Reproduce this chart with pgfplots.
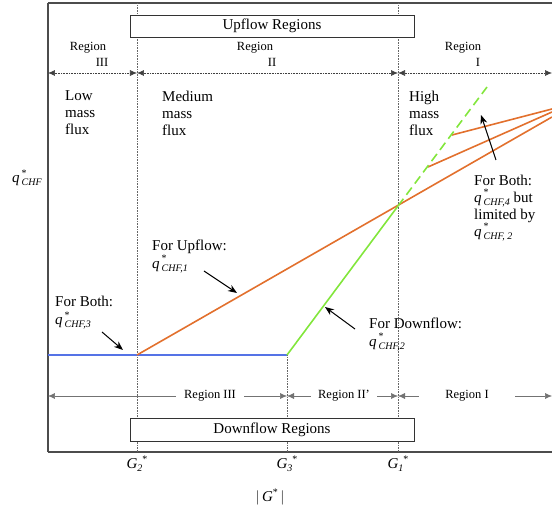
\documentclass[border=0pt]{standalone}
\usepackage{amsmath}
\usepackage{pgfplots}
\pgfplotsset{compat=1.18}
\usetikzlibrary{arrows.meta}
\usepackage{fontspec}
\setmainfont{Liberation Serif}
\definecolor{corange}{RGB}{226,112,45}
\definecolor{cblue}{RGB}{85,115,230}
\definecolor{cgreen}{RGB}{130,230,60}
\newcommand{\sm}{\fontsize{10}{10}\selectfont}
\newcommand{\q}[1]{\textit{q}\hspace{2pt}\rlap{\raisebox{6.5pt}{\sm *}}\raisebox{-3pt}{\sm\textit{#1}}}
\newcommand{\G}[1]{\textit{G}\raisebox{-3pt}{\sm\textit{#1}}\raisebox{6pt}{\sm *}}
\newcommand{\rf}{\fontsize{12.5}{14}\selectfont}
\begin{document}
\begin{tikzpicture}[font=\fontsize{15}{17}\selectfont]
\begin{axis}[
  scale only axis, width=504pt, height=449pt,
  xmin=48, xmax=552, ymin=57, ymax=506,
  axis x line*=bottom, axis y line*=left,
  axis line style={line width=1.2pt, draw=black!70},
  xtick={137,287,398},
  xticklabels={{\G{2}},{\G{3}},{\G{1}}},
  ytick=\empty,
  major tick length=0pt,
  xticklabel style={font=\fontsize{15}{17}\selectfont},
  clip=false,
]
% top border
\draw[line width=1.2pt, draw=black!70] (axis cs:48,506) -- (axis cs:552,506);
% vertical dotted lines
\draw[densely dotted, black!60, line width=0.6pt] (axis cs:137,57) -- (axis cs:137,506);
\draw[densely dotted, black!60, line width=0.6pt] (axis cs:398,57) -- (axis cs:398,506);
\draw[densely dotted, black!60, line width=0.6pt] (axis cs:287,57) -- (axis cs:287,154);
% top region arrows
\tikzset{rarr/.style={black!75, line width=0.6pt, {Latex[length=7pt,width=6pt]}-{Latex[length=7pt,width=6pt]}}}
\draw[rarr, densely dotted] (axis cs:48,436) -- (axis cs:137,436);
\draw[rarr, densely dotted] (axis cs:137,436) -- (axis cs:398,436);
\draw[rarr, densely dotted] (axis cs:398,436) -- (axis cs:552,436);
\node[font=\rf] at (axis cs:88,461) {Region};
\node[font=\rf] at (axis cs:102,447) {III};
\node[font=\rf] at (axis cs:255,461) {Region};
\node[font=\rf] at (axis cs:272,447) {II};
\node[font=\rf] at (axis cs:463,461) {Region};
\node[font=\rf] at (axis cs:478,447) {I};
% bottom region arrows
\draw[rarr, black!55, line width=0.5pt] (axis cs:48,113) -- (axis cs:287,113);
\draw[rarr, black!55, line width=0.5pt] (axis cs:287,113) -- (axis cs:398,113);
\draw[rarr, black!55, line width=0.5pt] (axis cs:398,113) -- (axis cs:552,113);
\node[font=\rf, fill=white, inner xsep=8pt, inner ysep=2pt] at (axis cs:210,113) {Region III};
\node[font=\rf, fill=white, inner xsep=7pt, inner ysep=2pt] at (axis cs:344,113) {Region II'};
\node[font=\rf, fill=white, inner xsep=26pt, inner ysep=2pt] at (axis cs:467,113) {Region I};
% boxes
\draw[fill=white, line width=0.8pt, draw=black!80] (axis cs:130,472) rectangle (axis cs:414,494);
\node at (axis cs:272,483) {Upflow Regions};
\draw[fill=white, line width=0.8pt, draw=black!80] (axis cs:130,68) rectangle (axis cs:414,91);
\node at (axis cs:272,79.5) {Downflow Regions};
% data lines
\addplot[cblue, line width=1.6pt] coordinates {(48,154) (287,154)};
\addplot[corange, line width=1.6pt] coordinates {(137,154) (552,392)};
\addplot[corange, line width=1.6pt] coordinates {(428,342) (552,397)};
\addplot[corange, line width=1.6pt] coordinates {(452,374) (552,400)};
\addplot[cgreen, line width=1.6pt] coordinates {(287,154) (398,303)};
\addplot[cgreen, line width=1.6pt, dash pattern=on 9pt off 5pt] coordinates {(398,303) (487,422)};
% flux texts
\node[anchor=west, align=left, inner sep=0] at (axis cs:65,396) {Low\\mass\\flux};
\node[anchor=west, align=left, inner sep=0] at (axis cs:162,396) {Medium\\mass\\flux};
\node[anchor=west, align=left, inner sep=0] at (axis cs:409,396) {High\\mass\\flux};
% y label
\node at (axis cs:27,331) {\q{CHF}};
% annotations
\node[anchor=west, align=left, inner sep=0] at (axis cs:152,253) {For Upflow:\\[1pt]\q{CHF,1}};
\node[anchor=west, align=left, inner sep=0] at (axis cs:55,196) {For Both:\\[1pt]\q{CHF,3}};
\node[anchor=west, align=left, inner sep=0] at (axis cs:369,175) {For Downflow:\\[1pt]\q{CHF,2}};
\node[anchor=west, align=left, inner sep=0] at (axis cs:474,301) {For Both:\\\q{CHF,4} but\\limited by\\\q{CHF, 2}};
\tikzset{aarr/.style={-{Stealth[length=9pt,width=7pt]}, line width=1pt, black}}
\draw[aarr] (axis cs:204,238) -- (axis cs:237,216);
\draw[aarr] (axis cs:102,177) -- (axis cs:123,159);
\draw[aarr] (axis cs:355,180) -- (axis cs:325,202);
\draw[aarr] (axis cs:496,349) -- (axis cs:481,394);
% x label
\node at (axis cs:270,12) {$\lvert$\,\textit{G}\raisebox{6pt}{\sm *}\,$\rvert$};
\end{axis}
\pgfresetboundingbox
\path[use as bounding box] (-48pt,-57pt) rectangle (504pt,452pt);
\end{tikzpicture}
\end{document}
